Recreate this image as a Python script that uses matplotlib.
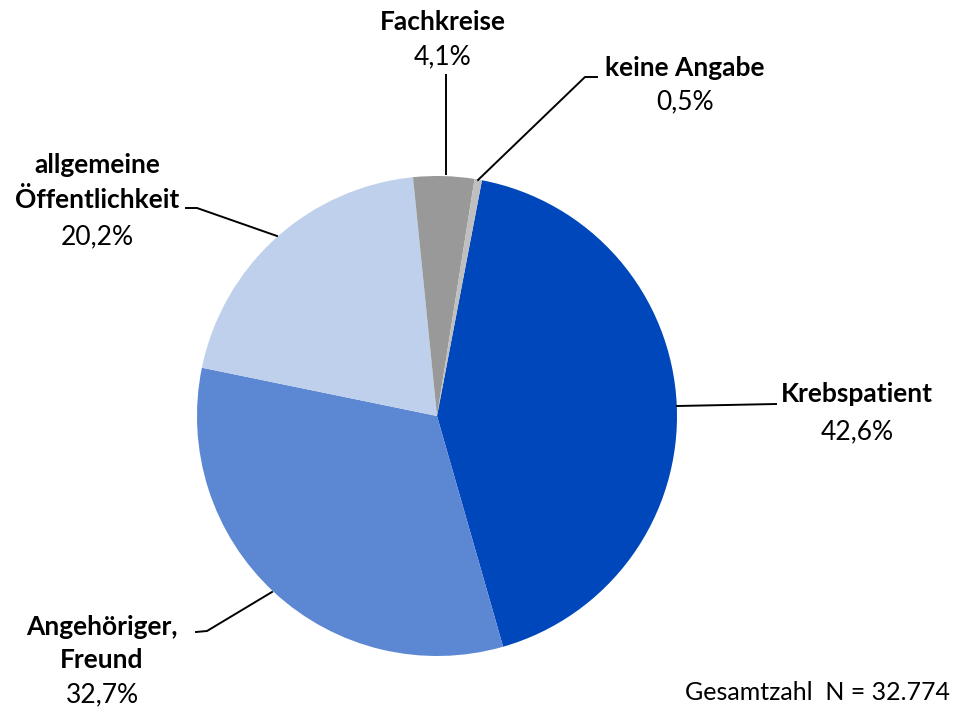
import matplotlib.pyplot as plt

labels = ['Krebspatient', 'Angehöriger,\nFreund', 'allgemeine\nÖffentlichkeit', 'Fachkreise', 'keine Angabe']
values = [42.6, 32.7, 20.2, 4.1, 0.5]
pct_text = ['42,6%', '32,7%', '20,2%', '4,1%', '0,5%']
colors = ['#0047BB', '#5B87D3', '#BFD0EC', '#999999', '#BFBFBF']
total_n = '32.774'

W, H = 958, 713
plt.rcParams['font.family'] = ['Lato', 'DejaVu Sans']

fig = plt.figure(figsize=(W / 100, H / 100), dpi=100)
ax = fig.add_axes([0, 0, 1, 1])

def py(y):
    return H - y

ax.pie(values, colors=colors, startangle=79.2, counterclock=False,
       center=(437, py(416)), radius=240, frame=True,
       wedgeprops=dict(linewidth=0))
ax.set_xlim(0, W)
ax.set_ylim(0, H)
ax.set_aspect('equal')
ax.axis('off')

# label line positions (pixel), leader lines
xs = [857, 102, 97, 443, 685]
ys = [[394], [627, 660], [165, 200], [22], [68]]
pct_y = [432, 695, 237, 57, 102]
lines = [
    [(677, 406), (776, 404)],
    [(272, 592), (207, 631), (196, 632)],
    [(277, 236), (197, 208), (186, 208)],
    [(446, 174), (446, 75)],
    [(478, 180), (585, 77), (597, 77)],
]
for lab, x, yl, pt, yp, ln in zip(labels, xs, ys, pct_text, pct_y, lines):
    for part, y in zip(lab.split('\n'), yl):
        ax.text(x, py(y), part, ha='center', va='center', fontsize=19,
                fontweight='bold', color='black')
    ax.text(x, py(yp), pt, ha='center', va='center', fontsize=19, color='black')
    ax.plot([q[0] for q in ln], [py(q[1]) for q in ln], color='black', lw=1.4)

ax.text(818, py(693), 'Gesamtzahl  N = ' + total_n, ha='center', va='center',
        fontsize=18, color='black')

fig.savefig('out.png', dpi=100)
